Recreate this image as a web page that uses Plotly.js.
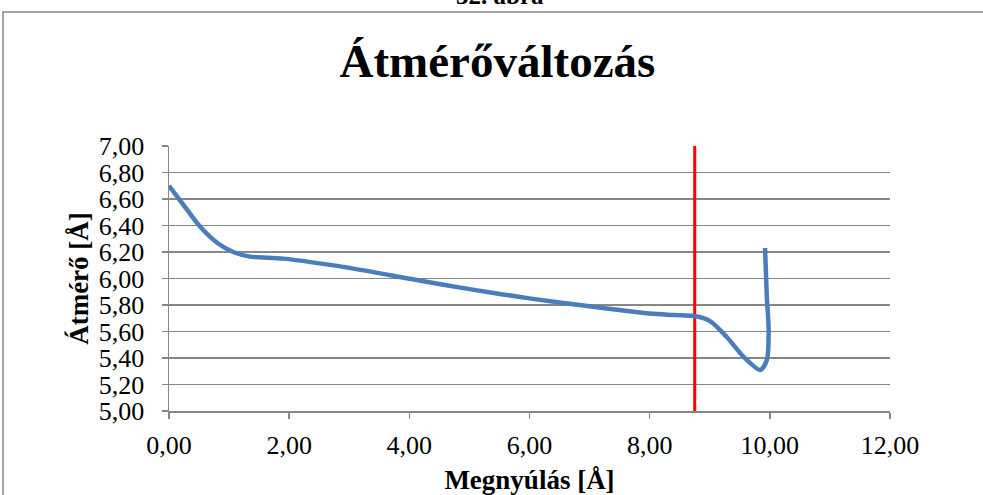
<!DOCTYPE html>
<html>
<head>
<meta charset="utf-8">
<script src="https://cdn.plot.ly/plotly-3.0.1.min.js"></script>
<style>html,body{margin:0;padding:0;background:#fff;}#chart{width:983px;height:495px;}</style>
</head>
<body>
<div id="chart"></div>
<script>
// Data
const elongation = [0, 0.25, 0.52, 0.8, 1.07, 1.35, 1.9, 3.0, 4.1, 5.0, 6.0, 7.0, 8.0, 8.4, 8.75, 9.0, 9.28, 9.56, 9.84, 9.95, 9.98, 9.95, 9.92];
const diameter   = [6.70, 6.55, 6.39, 6.27, 6.20, 6.165, 6.15, 6.08, 5.99, 5.92, 5.85, 5.79, 5.735, 5.725, 5.717, 5.68, 5.56, 5.41, 5.31, 5.385, 5.61, 5.86, 6.23];
const markerX = [8.75, 8.75];
const markerY = [5.00, 7.00];
const xTicks = [0, 2, 4, 6, 8, 10, 12];
const yTicks = [5.0, 5.2, 5.4, 5.6, 5.8, 6.0, 6.2, 6.4, 6.6, 6.8, 7.0];

const font = 'Liberation Serif';
const grid = '#878787';

const traces = [
  {x: markerX, y: markerY, type: 'scatter', mode: 'lines', line: {color: '#FF0000', width: 3}, hoverinfo: 'skip'},
  {x: elongation, y: diameter, type: 'scatter', mode: 'lines', line: {color: '#4A7EBB', width: 4.5, shape: 'spline', smoothing: 0.8}}
];

const layout = {
  width: 983, height: 495,
  margin: {l: 169, r: 93, t: 146, b: 84},
  paper_bgcolor: '#fff', plot_bgcolor: '#fff',
  showlegend: false,
  separators: ', ',
  font: {family: font, color: '#000', size: 26},
  title: {text: '<b>Átmérőváltozás</b>', font: {family: font, size: 47, color: '#000'}, x: 0.506, xanchor: 'center', y: 0.878, yanchor: 'middle'},
  xaxis: {
    range: [0, 12], tickvals: xTicks, tickformat: '.2f',
    showgrid: false, zeroline: false,
    showline: true, linecolor: grid, linewidth: 1.5,
    ticks: 'outside', ticklen: 6, tickcolor: grid, tickwidth: 1.5,
    ticklabelstandoff: 4,
    tickfont: {family: font, size: 26, color: '#000'},
    title: {text: '<b>Megnyúlás [Å]</b>', font: {family: font, size: 27, color: '#000'}, standoff: 14}
  },
  yaxis: {
    range: [5, 7], tickvals: yTicks, tickformat: '.2f',
    showgrid: true, gridcolor: grid, gridwidth: 1.5, zeroline: false,
    showline: true, linecolor: grid, linewidth: 1.5,
    ticks: 'outside', ticklen: 6, tickcolor: grid, tickwidth: 1.5,
    ticklabelstandoff: 12,
    tickfont: {family: font, size: 26, color: '#000'},
    title: {text: '<b>Átmérő [Å]</b>', font: {family: font, size: 27, color: '#000'}, standoff: 2}
  },
  shapes: [
    {type: 'rect', xref: 'paper', yref: 'paper', x0: -0.2302, x1: 1.5, y0: -1, y1: 1.5057,
     line: {color: '#888', width: 1.5}, fillcolor: 'rgba(0,0,0,0)', layer: 'below'}
  ],
  annotations: [
    {text: '<b>32. ábra</b>', xref: 'paper', yref: 'paper', x: 0.459, y: 1.51, xanchor: 'center', yanchor: 'bottom',
     showarrow: false, font: {family: font, size: 25, color: '#000'}}
  ]
};

Plotly.newPlot('chart', traces, layout, {staticPlot: true, displayModeBar: false});
</script>
</body>
</html>
